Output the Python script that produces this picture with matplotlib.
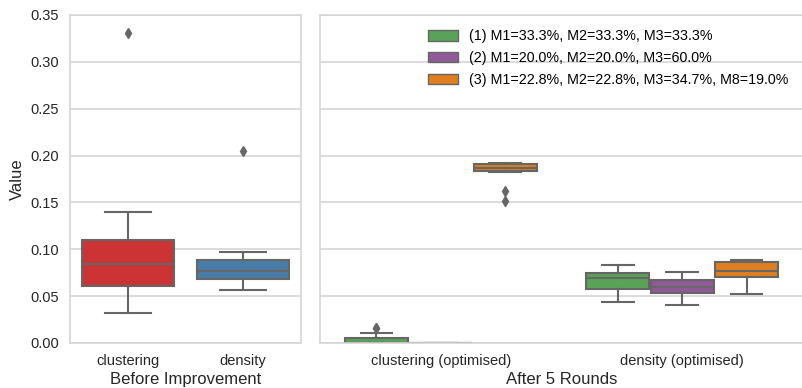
import numpy as np
import matplotlib.pyplot as plt
from matplotlib.patches import Patch

plt.rcParams['font.family'] = ['Liberation Sans', 'DejaVu Sans']

# before improvement: box stats
before_labels = ['clustering', 'density']
before_q1 = [0.0612, 0.0680]
before_med = [0.0848, 0.0768]
before_q3 = [0.1095, 0.0890]
before_lo = [0.0322, 0.0565]
before_hi = [0.1395, 0.0975]
before_fliers = [[0.331], [0.205]]
before_colors = ['#cb3335', '#477ca8']

# after 5 rounds: rows = category, columns = hue (1), (2), (3)
after_labels = ['clustering (optimised)', 'density (optimised)']
hue_labels = ['(1) M1=33.3%, M2=33.3%, M3=33.3%',
              '(2) M1=20.0%, M2=20.0%, M3=60.0%',
              '(3) M1=22.8%, M2=22.8%, M3=34.7%, M8=19.0%']
hue_colors = ['#59a257', '#905998', '#df7f20']
after_q1 = [[0.0, 0.0, 0.1833], [0.0572, 0.0530, 0.0702]]
after_med = [[0.0003, 0.0, 0.1870], [0.0697, 0.0600, 0.0765]]
after_q3 = [[0.0052, 0.0, 0.1905], [0.0750, 0.0670, 0.0866]]
after_lo = [[0.0, 0.0, 0.1830], [0.0436, 0.0407, 0.0522]]
after_hi = [[0.0105, 0.0, 0.1925], [0.0832, 0.0757, 0.0888]]
after_fliers = [[[0.0155, 0.0165], [], [0.1625, 0.1520]], [[], [], []]]

line_c = '#666666'
grid_c = '#d5d5d5'


def draw(ax, stats, pos, width, colors):
    bp = ax.bxp(stats, positions=pos, widths=width, patch_artist=True,
                showfliers=True, manage_ticks=False,
                boxprops=dict(edgecolor=line_c, linewidth=1.5),
                medianprops=dict(color=line_c, linewidth=1.5),
                whiskerprops=dict(color=line_c, linewidth=1.5),
                capprops=dict(color=line_c, linewidth=1.5),
                flierprops=dict(marker='d', markerfacecolor=line_c,
                                markeredgecolor=line_c, markersize=5))
    for b, c in zip(bp['boxes'], colors):
        b.set_facecolor(c)
    for i, cap in enumerate(bp['caps']):
        cap.set_xdata(np.array([pos[i // 2] - width / 4, pos[i // 2] + width / 4]))


def style(ax):
    ax.set_facecolor('white')
    for s in ax.spines.values():
        s.set_color(grid_c)
        s.set_linewidth(1.2)
    ax.yaxis.grid(True, color=grid_c, linewidth=1.2)
    ax.set_axisbelow(True)
    ax.tick_params(length=0, labelsize=10.5, colors='#262626', pad=8)
    ax.set_ylim(0, 0.35)
    ax.set_yticks(np.arange(0, 0.351, 0.05))


fig = plt.figure(figsize=(8.03, 3.88), dpi=100)
ax1 = fig.add_axes([70 / 803, 45 / 388, 231 / 803, 328 / 388])
ax2 = fig.add_axes([320 / 803, 45 / 388, 483 / 803, 328 / 388], sharey=ax1)

stats1 = []
for i in range(len(before_labels)):
    stats1.append(dict(med=before_med[i], q1=before_q1[i], q3=before_q3[i],
                       whislo=before_lo[i], whishi=before_hi[i],
                       fliers=before_fliers[i]))
draw(ax1, stats1, [0, 1], 0.8, before_colors)
style(ax1)
ax1.set_xlim(-0.5, 1.5)
ax1.set_xticks([0, 1])
ax1.set_xticklabels(before_labels)
ax1.set_yticklabels(['%.2f' % v for v in np.arange(0, 0.351, 0.05)])
ax1.set_ylabel('Value', fontsize=12, color='#262626')
ax1.set_xlabel('Before Improvement', fontsize=12, color='#262626', labelpad=2.5)

w = 0.8 / 3
for h in range(3):
    stats2 = []
    for i in range(len(after_labels)):
        stats2.append(dict(med=after_med[i][h], q1=after_q1[i][h],
                           q3=after_q3[i][h], whislo=after_lo[i][h],
                           whishi=after_hi[i][h], fliers=after_fliers[i][h]))
    pos = [i - 0.4 + w / 2 + h * w for i in range(len(after_labels))]
    draw(ax2, stats2, pos, w * 0.98, [hue_colors[h]] * 2)
style(ax2)
ax2.spines['right'].set_visible(False)
ax2.set_xlim(-0.5, 1.5)
ax2.set_xticks([0, 1])
ax2.set_xticklabels(after_labels)
plt.setp(ax2.get_yticklabels(), visible=False)
ax2.set_xlabel('After 5 Rounds', fontsize=12, color='#262626', labelpad=2.5)

handles = [Patch(facecolor=c, edgecolor=line_c, linewidth=1) for c in hue_colors]
ax2.legend(handles, hue_labels, loc='upper right', frameon=False,
           fontsize=10.3, handlelength=2.1, handleheight=0.75,
           labelspacing=0.55, borderaxespad=0.6)

fig.savefig('out.png', dpi=100)
